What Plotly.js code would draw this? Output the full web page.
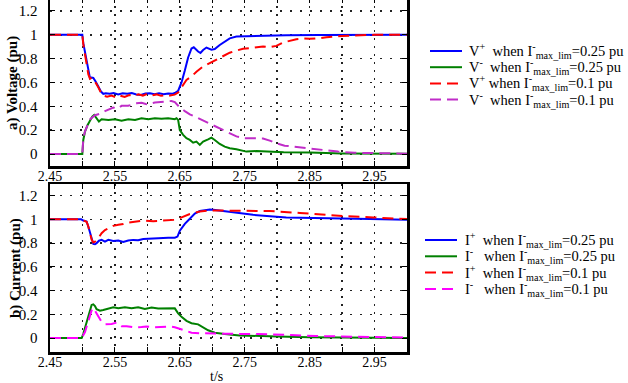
<!DOCTYPE html>
<html>
<head>
<meta charset="utf-8">
<script src="https://cdn.plot.ly/plotly-3.0.1.min.js"></script>
<style>
  html, body { margin: 0; padding: 0; overflow: hidden; background: #fff; }
  #chart { position: absolute; left: 0; top: -3px; width: 628px; height: 386px; }
</style>
</head>
<body>
<div id="chart"></div>
<script>
// ---- a) Voltage, positive / negative sequence (pu) ----
const tVPos025 = [2.45, 2.4998, 2.5013, 2.5039, 2.5064, 2.509, 2.5116, 2.5141, 2.5167, 2.5203, 2.5244, 2.5285, 2.5321, 2.536, 2.542, 2.548, 2.555, 2.562, 2.569, 2.576, 2.583, 2.59, 2.597, 2.604, 2.611, 2.618, 2.625, 2.632, 2.639, 2.6423, 2.6474, 2.65, 2.6526, 2.6577, 2.6628, 2.668, 2.6715, 2.6782, 2.6818, 2.6859, 2.691, 2.6987, 2.7038, 2.7115, 2.7192, 2.7269, 2.7372, 2.7628, 2.7885, 2.814, 2.8654, 2.92, 3.0];
const vPos025 = [1, 1, 0.93, 0.85, 0.78, 0.68, 0.636, 0.642, 0.638, 0.608, 0.566, 0.524, 0.505, 0.51, 0.505, 0.512, 0.5, 0.51, 0.505, 0.512, 0.5, 0.495, 0.508, 0.51, 0.502, 0.51, 0.502, 0.508, 0.505, 0.512, 0.53, 0.56, 0.6, 0.7, 0.81, 0.885, 0.895, 0.86, 0.847, 0.872, 0.893, 0.875, 0.88, 0.915, 0.944, 0.97, 0.985, 0.99, 0.993, 0.996, 0.999, 1.0, 1.0];

const tVNeg025 = [2.45, 2.4998, 2.5013, 2.5039, 2.508, 2.5116, 2.5151, 2.518, 2.5218, 2.5254, 2.5295, 2.54, 2.55, 2.5603, 2.5706, 2.581, 2.591, 2.6013, 2.6116, 2.6218, 2.632, 2.6423, 2.6449, 2.6474, 2.65, 2.6551, 2.6602, 2.6654, 2.6705, 2.6756, 2.6808, 2.6859, 2.6936, 2.6987, 2.7038, 2.7115, 2.7192, 2.7269, 2.7372, 2.7526, 2.768, 2.7833, 2.81, 2.85, 2.9, 3.0];
const vNeg025 = [0, 0, 0.118, 0.188, 0.244, 0.286, 0.314, 0.328, 0.294, 0.272, 0.292, 0.286, 0.292, 0.28, 0.292, 0.286, 0.3, 0.292, 0.3, 0.295, 0.3, 0.292, 0.3, 0.286, 0.2, 0.16, 0.132, 0.118, 0.095, 0.104, 0.076, 0.104, 0.123, 0.137, 0.118, 0.084, 0.062, 0.048, 0.04, 0.02, 0.025, 0.02, 0.015, 0.012, 0.005, 0.003];

const tVPos01 = [2.45, 2.4998, 2.5013, 2.5039, 2.5064, 2.509, 2.5116, 2.5141, 2.5167, 2.5203, 2.5244, 2.5285, 2.5321, 2.538, 2.545, 2.552, 2.558, 2.565, 2.572, 2.579, 2.586, 2.593, 2.6, 2.607, 2.614, 2.621, 2.628, 2.635, 2.642, 2.6474, 2.6551, 2.6602, 2.668, 2.6756, 2.6859, 2.6962, 2.7064, 2.7167, 2.7269, 2.7372, 2.7474, 2.7577, 2.768, 2.7782, 2.7885, 2.7987, 2.809, 2.8192, 2.8295, 2.8397, 2.85, 2.8654, 2.876, 2.9, 2.92, 2.95, 3.0];
const vPos01 = [1, 1, 0.92, 0.84, 0.77, 0.67, 0.63, 0.638, 0.63, 0.6, 0.56, 0.515, 0.49, 0.48, 0.49, 0.472, 0.49, 0.478, 0.495, 0.485, 0.5, 0.49, 0.505, 0.492, 0.5, 0.488, 0.495, 0.49, 0.498, 0.515, 0.58, 0.622, 0.65, 0.69, 0.734, 0.762, 0.79, 0.823, 0.85, 0.868, 0.882, 0.888, 0.896, 0.902, 0.896, 0.907, 0.935, 0.952, 0.963, 0.969, 0.966, 0.972, 0.98, 0.99, 0.995, 1.0, 1.0];

const tVNeg01 = [2.45, 2.4998, 2.5013, 2.5039, 2.508, 2.5116, 2.5193, 2.527, 2.5347, 2.542, 2.5475, 2.555, 2.5603, 2.5705, 2.5834, 2.5911, 2.5988, 2.6116, 2.6244, 2.6372, 2.6423, 2.65, 2.6577, 2.6654, 2.673, 2.6808, 2.6885, 2.6987, 2.7115, 2.7244, 2.7372, 2.75, 2.7628, 2.7782, 2.7885, 2.7987, 2.8115, 2.8244, 2.8397, 2.855, 2.8654, 2.8936, 2.919, 2.95, 3.0];
const vNeg01 = [0, 0, 0.13, 0.19, 0.245, 0.29, 0.325, 0.338, 0.36, 0.38, 0.39, 0.38, 0.405, 0.405, 0.425, 0.43, 0.418, 0.432, 0.44, 0.445, 0.435, 0.39, 0.36, 0.333, 0.314, 0.294, 0.272, 0.244, 0.216, 0.178, 0.148, 0.133, 0.132, 0.13, 0.112, 0.09, 0.07, 0.062, 0.054, 0.04, 0.035, 0.02, 0.01, 0.005, 0.003];

// ---- b) Current, positive / negative sequence (pu) ----
const tIPos025 = [2.45, 2.498, 2.5013, 2.5064, 2.509, 2.5116, 2.5141, 2.5167, 2.5193, 2.5218, 2.5254, 2.5295, 2.5347, 2.5398, 2.5475, 2.5552, 2.5629, 2.5705, 2.5782, 2.5859, 2.5936, 2.6013, 2.6116, 2.6218, 2.6321, 2.6423, 2.6464, 2.65, 2.6577, 2.6654, 2.6731, 2.6808, 2.6885, 2.6962, 2.7013, 2.709, 2.7192, 2.7628, 2.814, 2.866, 2.943, 3.0];
const iPos025 = [1, 1, 0.99, 0.982, 0.94, 0.883, 0.827, 0.793, 0.79, 0.799, 0.82, 0.827, 0.813, 0.827, 0.818, 0.822, 0.81, 0.822, 0.827, 0.824, 0.835, 0.838, 0.838, 0.843, 0.846, 0.846, 0.855, 0.905, 0.962, 1.005, 1.048, 1.07, 1.074, 1.084, 1.08, 1.075, 1.07, 1.038, 1.016, 1.008, 1.002, 0.997];

const tINeg025 = [2.45, 2.4988, 2.5013, 2.5064, 2.509, 2.5116, 2.5141, 2.5167, 2.5193, 2.5218, 2.527, 2.5321, 2.5398, 2.5475, 2.5552, 2.5654, 2.5757, 2.5859, 2.5962, 2.6065, 2.6167, 2.627, 2.6372, 2.6423, 2.6474, 2.6526, 2.6603, 2.668, 2.6782, 2.6859, 2.6936, 2.7039, 2.7192, 2.742, 2.77, 2.8, 2.85, 2.9, 3.0];
const iNeg025 = [0, 0, 0.036, 0.138, 0.194, 0.25, 0.279, 0.284, 0.27, 0.242, 0.23, 0.236, 0.25, 0.259, 0.25, 0.259, 0.25, 0.259, 0.245, 0.256, 0.248, 0.25, 0.25, 0.25, 0.208, 0.178, 0.145, 0.125, 0.115, 0.09, 0.065, 0.045, 0.033, 0.022, 0.016, 0.012, 0.006, 0.003, 0];

const tIPos01 = [2.45, 2.498, 2.5013, 2.5064, 2.509, 2.5116, 2.5141, 2.5167, 2.5193, 2.5244, 2.5295, 2.5347, 2.5398, 2.5475, 2.5552, 2.5629, 2.5705, 2.5782, 2.5859, 2.5962, 2.609, 2.6218, 2.6321, 2.6423, 2.65, 2.6577, 2.6654, 2.6731, 2.6808, 2.6962, 2.7115, 2.7423, 2.7885, 2.835, 2.866, 2.907, 2.948, 3.0];
const iPos01 = [1, 1, 0.99, 0.98, 0.94, 0.88, 0.83, 0.805, 0.812, 0.84, 0.883, 0.91, 0.925, 0.945, 0.954, 0.96, 0.973, 0.979, 0.981, 0.99, 0.985, 0.99, 0.993, 0.996, 1.01, 1.03, 1.045, 1.055, 1.066, 1.075, 1.074, 1.075, 1.07, 1.054, 1.04, 1.026, 1.016, 1.003];

const tINeg01 = [2.45, 2.4988, 2.5039, 2.509, 2.5141, 2.5167, 2.5203, 2.5244, 2.5285, 2.5347, 2.545, 2.5526, 2.5603, 2.568, 2.5808, 2.591, 2.5988, 2.6116, 2.6244, 2.6346, 2.6423, 2.65, 2.6577, 2.668, 2.6808, 2.691, 2.7039, 2.7192, 2.73, 2.77, 2.79, 2.82, 2.86, 2.89, 2.94, 3.0];
const iNeg01 = [0, 0, 0.05, 0.149, 0.233, 0.253, 0.22, 0.172, 0.145, 0.115, 0.118, 0.13, 0.1, 0.1, 0.09, 0.092, 0.097, 0.09, 0.095, 0.097, 0.09, 0.075, 0.06, 0.045, 0.04, 0.038, 0.035, 0.033, 0.035, 0.034, 0.028, 0.025, 0.017, 0.013, 0.005, 0.003];

// legend labels
const legendV = [
  'V<sup>+</sup>\u00a0\u00a0when I<sup>-</sup><sub>max_lim</sub>=0.25 pu',
  'V<sup>-</sup>\u00a0\u00a0when I<sup>-</sup><sub>max_lim</sub>=0.25 pu',
  'V<sup>+</sup> when I<sup>-</sup><sub>max_lim</sub>=0.1 pu',
  'V<sup>-</sup>\u00a0\u00a0when I<sup>-</sup><sub>max_lim</sub>=0.1 pu'
];
const legendI = [
  'I<sup>+</sup>\u00a0\u00a0when I<sup>-</sup><sub>max_lim</sub>=0.25 pu',
  'I<sup>-</sup>\u00a0\u00a0\u00a0when I<sup>-</sup><sub>max_lim</sub>=0.25 pu',
  'I<sup>+</sup>\u00a0\u00a0when I<sup>-</sup><sub>max_lim</sub>=0.1 pu',
  'I<sup>-</sup>\u00a0\u00a0\u00a0when I<sup>-</sup><sub>max_lim</sub>=0.1 pu'
];

// ---- figure geometry (pixels) ----
const W = 628, H = 386;
const M = { l: 50, r: 221, t: 1, b: 31 };
const plotH = H - M.t - M.b;        // 354
const plotW = W - M.l - M.r;        // 357
const OFF = 3;                      // div is shifted up by this much
const px2x = px => (px - M.l) / plotW;
const px2y = py => (H - M.b - (py + OFF)) / plotH;

const FONT = 'Liberation Serif';
const BLUE = '#0000ff', GREEN = '#008000', RED = '#ff0000';
const MAG_V = '#c02cc8', MAG_I = '#ff00ff';
const DASH = '11px,6px';
const LW = 2;

function line(x, y, color, dash, xa, ya) {
  return { x: x, y: y, type: 'scatter', mode: 'lines', xaxis: xa, yaxis: ya,
           line: { color: color, width: LW, dash: dash || 'solid', shape: 'linear' },
           showlegend: false, hoverinfo: 'skip' };
}

const traces = [
  line(tVPos025, vPos025, BLUE, null, 'x', 'y'),
  line(tVNeg025, vNeg025, GREEN, null, 'x', 'y'),
  line(tVPos01, vPos01, RED, DASH, 'x', 'y'),
  line(tVNeg01, vNeg01, MAG_V, DASH, 'x', 'y'),
  line(tIPos025, iPos025, BLUE, null, 'x2', 'y2'),
  line(tINeg025, iNeg025, GREEN, null, 'x2', 'y2'),
  line(tIPos01, iPos01, RED, DASH, 'x2', 'y2'),
  line(tINeg01, iNeg01, MAG_I, DASH, 'x2', 'y2')
];

const gridStyle = { showgrid: true, gridcolor: '#222', gridwidth: 1.5 };

function xAxis(anchor) {
  return Object.assign({
    anchor: anchor, range: [2.45, 3.0], tick0: 2.45, dtick: 0.1, tickformat: '.2f',
    ticks: 'inside', ticklen: 5, tickwidth: 1, tickcolor: '#000',
    showline: true, linewidth: 2.5, linecolor: '#000', mirror: 'ticks',
    zeroline: false, griddash: '1.5px,6.5px', ticklabelstandoff: -4,
    tickfont: { family: FONT, size: 14, color: '#000' },
    minor: { tick0: 2.45, dtick: 0.05, ticks: 'inside', ticklen: 5, tickwidth: 1, tickcolor: '#000',
             showgrid: true, gridcolor: '#222', gridwidth: 1.5, griddash: '1.5px,6.5px' },
    fixedrange: true
  }, gridStyle);
}

function yAxis(anchor, domain, range) {
  return Object.assign({
    anchor: anchor, domain: domain, range: range, tick0: 0, dtick: 0.2,
    ticks: 'inside', ticklen: 5, tickwidth: 1, tickcolor: '#000',
    showline: true, linewidth: 2.5, linecolor: '#000', mirror: 'ticks',
    zeroline: false, griddash: '1.5px,8.5px', ticklabelstandoff: 7,
    tickfont: { family: FONT, size: 15, color: '#000' },
    fixedrange: true
  }, gridStyle);
}

// hand-built legends: sample line + label for every curve
const shapes = [];
const annotations = [];
function addLegend(labels, colors, x0, y0, rowH, textGap) {
  labels.forEach((lab, i) => {
    const yy = y0 + i * rowH;
    shapes.push({ type: 'line', xref: 'paper', yref: 'paper',
                  x0: px2x(x0), x1: px2x(x0 + 32), y0: px2y(yy), y1: px2y(yy),
                  line: { color: colors[i], width: LW, dash: i >= 2 ? DASH : 'solid' } });
    annotations.push({ xref: 'paper', yref: 'paper', x: px2x(x0 + 32 + textGap), y: px2y(yy),
                       xanchor: 'left', yanchor: 'middle', showarrow: false, text: lab,
                       font: { family: FONT, size: 14.5, color: '#000' } });
  });
}
addLegend(legendV, [BLUE, GREEN, RED, MAG_V], 430, 51, 16.2, 5);
addLegend(legendI, [BLUE, GREEN, RED, MAG_I], 425, 240, 16.3, 6);

// axis titles
annotations.push({ xref: 'paper', yref: 'paper', x: px2x(13), y: px2y(83), textangle: -90,
                   xanchor: 'center', yanchor: 'middle', showarrow: false,
                   text: '<b>a) Voltage (pu)</b>', font: { family: FONT, size: 15, color: '#000' } });
annotations.push({ xref: 'paper', yref: 'paper', x: px2x(15), y: px2y(268), textangle: -90,
                   xanchor: 'center', yanchor: 'middle', showarrow: false,
                   text: '<b>b) Current (pu)</b>', font: { family: FONT, size: 15, color: '#000' } });
annotations.push({ xref: 'paper', yref: 'paper', x: px2x(216), y: px2y(376),
                   xanchor: 'center', yanchor: 'middle', showarrow: false,
                   text: 't/s', font: { family: FONT, size: 14, color: '#000' } });

const layout = {
  width: W, height: H, margin: M,
  paper_bgcolor: '#fff', plot_bgcolor: '#fff',
  showlegend: false,
  font: { family: FONT, color: '#000' },
  xaxis: xAxis('y'),
  yaxis: yAxis('x', [px2y(166), 1], [-0.1007, 1.3087]),
  xaxis2: xAxis('y2'),
  yaxis2: yAxis('x2', [0, px2y(184)], [-0.118, 1.298]),
  shapes: shapes,
  annotations: annotations
};

Plotly.newPlot('chart', traces, layout, { displayModeBar: false, staticPlot: true });
</script>
</body>
</html>
